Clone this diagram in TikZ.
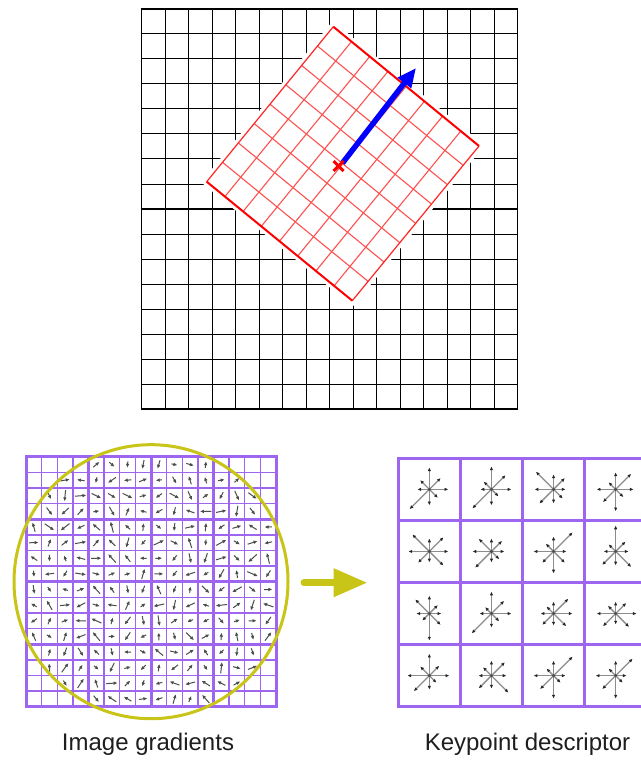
\documentclass[tikz,border=0pt]{standalone}
\usepackage{fontspec}
\setmainfont{Liberation Sans}
\usetikzlibrary{arrows.meta,calc}
\definecolor{purp}{RGB}{158,102,240}
\definecolor{ylw}{RGB}{200,196,24}
\definecolor{lred}{RGB}{255,80,80}
\definecolor{txt}{RGB}{30,30,30}
\begin{document}
\begin{tikzpicture}[x=1pt,y=1pt,
  gridln/.style={black, line width=1pt},
  redin/.style={lred, line width=1.1pt},
  redout/.style={red, line width=2pt},
  redthin/.style={red!85, line width=1.2pt},
  gthin/.style={purp, line width=1.4pt},
  gthick/.style={purp, line width=3pt},
  grad/.style={black!70, line width=1pt, -{Latex[length=4pt,width=3.6pt]}},
  starln/.style={black!45, line width=1.3pt, -{Latex[length=3.8pt,width=3.4pt,color=black!85]}},
  lab/.style={text=txt, font=\fontsize{24}{28}\selectfont, inner sep=0pt, anchor=base}]
\useasboundingbox (0,0) rectangle (640,-762);
\fill[white] (0,0) rectangle (640,-762);

% ---------- top grid ----------
\foreach \k in {0,...,16}{
  \pgfmathsetmacro\px{141.5+23.5*\k}
  \pgfmathsetmacro\py{9+25*\k}
  \draw[gridln] (\px,-9) -- (\px,-409);
  \draw[gridln] (141.5,-\py) -- (517.5,-\py);
}
\draw[black, line width=2pt] (141.5,-209) -- (517.5,-209);
\draw[black, line width=1.8pt] (141.5,-9) rectangle (517.5,-409);

% ---------- rotated red grid ----------
\coordinate (T) at (333.3,-26.7);
\coordinate (R) at (479,-146);
\coordinate (B) at (352.3,-300.7);
\coordinate (L) at (206.7,-181.7);
\filldraw[white, line width=8pt, line join=miter] (T) -- (R) -- (B) -- (L) -- cycle;
\foreach \k in {1,...,7}{
  \draw[redin] ($(T)!\k/8!(R)$) -- ($(L)!\k/8!(B)$);
  \draw[redin] ($(T)!\k/8!(L)$) -- ($(R)!\k/8!(B)$);
}
\draw[redthin] (T) -- (L);
\draw[redthin] (R) -- (B);
\draw[redout] (T) -- (R);
\draw[redout] (L) -- (B);

% keypoint and orientation
\coordinate (kc) at (342.5,-163);
\coordinate (ori) at (416,-68);
\draw[blue, line width=5.5pt, -{Triangle[length=19pt,width=16pt]}] (kc) -- (ori);
\coordinate (kp) at (338.5,-166);
\draw[red, line width=3pt] ($(kp)+(-5,5)$) -- ($(kp)+(5,-5)$);
\draw[red, line width=3pt] ($(kp)+(-5,-5)$) -- ($(kp)+(5,5)$);

% ---------- image gradients grid ----------
\foreach \k in {0,...,16}{
  \pgfmathsetmacro\px{26+15.625*\k}
  \pgfmathsetmacro\py{456.7+15.625*\k}
  \draw[gthin] (\px,-456.7) -- (\px,-706.7);
  \draw[gthin] (26,-\py) -- (276,-\py);
}
\foreach \k in {0,...,4}{
  \pgfmathsetmacro\px{26+62.5*\k}
  \pgfmathsetmacro\py{456.7+62.5*\k}
  \draw[gthick, line cap=rect] (\px,-456.7) -- (\px,-706.7);
  \draw[gthick, line cap=rect] (26,-\py) -- (276,-\py);
}
\pgfmathsetseed{4321}
\foreach \i in {0,...,15}{
  \foreach \j in {0,...,15}{
    \pgfmathsetmacro\cx{26+15.625*(\i+0.5)}
    \pgfmathsetmacro\cy{456.7+15.625*(\j+0.5)}
    \pgfmathtruncatemacro\inside{(((\cx-151)/10)^2+((\cy-581.7)/10)^2)<179.6 ? 1 : 0}
    \ifnum\inside=1
      \pgfmathsetmacro\ang{rnd*360}
      \pgfmathsetmacro\hl{3+rnd*2.8}
      \pgfmathsetmacro\xa{\cx-\hl*cos(\ang)}
      \pgfmathsetmacro\ya{-\cy-\hl*sin(\ang)}
      \pgfmathsetmacro\xb{\cx+\hl*cos(\ang)}
      \pgfmathsetmacro\yb{-\cy+\hl*sin(\ang)}
      \draw[grad] (\xa,\ya) -- (\xb,\yb);
    \fi
  }
}
\coordinate (cc) at (151,-581.7);
\draw[ylw, line width=3pt] (cc) circle[radius=137];

% ---------- arrow between ----------
\coordinate (ya) at (304,-582.7);
\coordinate (yb) at (367.5,-582.7);
\draw[ylw, line width=7pt, line cap=round, -{Triangle[length=34pt,width=27pt]}] (ya) -- (yb);

% ---------- keypoint descriptor grid ----------
\foreach \k in {0,...,4}{
  \pgfmathsetmacro\px{398.3+62.1*\k}
  \pgfmathsetmacro\py{458.3+62.1*\k}
  \draw[gthick, line cap=rect] (\px,-458.3) -- (\px,-706.7);
  \draw[gthick, line cap=rect] (398.3,-\py) -- (650,-\py);
}
\foreach \ra/\ca/\qa/\qb/\qc/\qd/\qe/\qf/\qg/\qh in {
  0/0/19/16/22/13/12/28/16/12,
  0/1/20/20/23/11/11/27/16/10,
  0/2/12/16/15/25/19/20/14/13,
  0/3/18/22/17/10/19/18/22/11,
  1/0/19/20/13/24/21/16/11/20,
  1/1/13/15/13/18/19/23/11/11,
  1/2/13/27/15/11/20/16/22/16,
  1/3/13/14/26/10/12/19/14/22,
  2/0/12/12/18/20/13/10/27/16,
  2/1/20/18/22/9/12/28/14/11,
  2/2/19/21/12/10/13/16/12/18,
  2/3/21/15/12/11/19/18/11/19,
  3/0/20/14/22/13/22/22/14/10,
  3/1/15/19/15/12/13/18/13/24,
  3/2/12/27/15/10/20/19/23/10,
  3/3/11/24/15/10/20/19/23/10}{
  \pgfmathsetmacro\sx{398.3+62.1*(\ca+0.5)}
  \pgfmathsetmacro\sy{-458.3-62.1*(\ra+0.5)}
  \coordinate (sc) at (\sx,\sy);
  \foreach \L [count=\n from 0] in {\qa,\qb,\qc,\qd,\qe,\qf,\qg,\qh}{
    \draw[starln] (sc) -- ++(\n*45:\L);
  }
  \fill[black!70] (sc) circle[radius=1.6];
}

% ---------- labels ----------
\node[lab] (lg) at (148,-750) {Image gradients};
\node[lab] (ld) at (527.5,-750) {Keypoint descriptor};
\end{tikzpicture}
\end{document}
